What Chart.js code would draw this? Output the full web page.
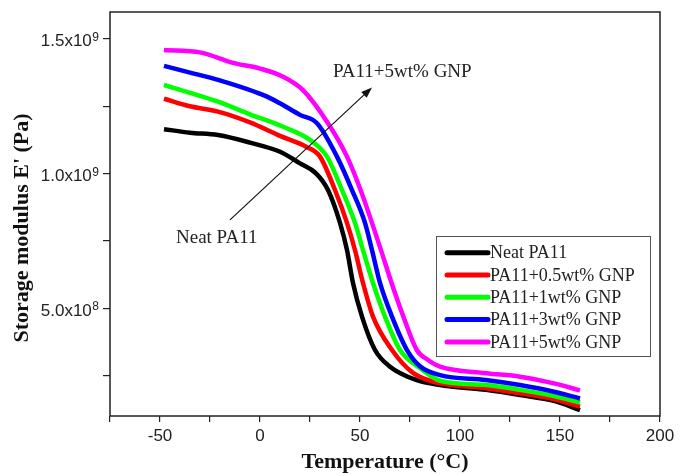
<!DOCTYPE html>
<html>
<head>
<meta charset="utf-8">
<script src="https://cdn.jsdelivr.net/npm/chart.js@4.4.1/dist/chart.umd.min.js"></script>
<style>
  html, body { margin: 0; padding: 0; background: #fff; }
  #wrap { width: 688px; height: 476px; position: relative; }
</style>
</head>
<body>
<div id="wrap"><canvas id="dma"></canvas></div>
<script>
// series names
var seriesNames = ['Neat PA11', 'PA11+0.5wt% GNP', 'PA11+1wt% GNP', 'PA11+3wt% GNP', 'PA11+5wt% GNP'];
var seriesColors = ['#000000', '#ff0000', '#00ff00', '#0000ff', '#ff00ff'];

// temperature (°C) and storage modulus (x1e9 Pa)
var neatT = [-48, -35, -21, -5, 10, 20, 28, 34, 40, 43.5, 46.5, 51, 57.5, 65, 78, 90, 113, 130, 147, 160];
var neatE = [1.165, 1.152, 1.143, 1.115, 1.081, 1.038, 1.001, 0.939, 0.817, 0.716, 0.594, 0.469, 0.345, 0.283, 0.234, 0.215, 0.197, 0.178, 0.156, 0.122];

var gnp05T = [-48, -35, -21, -5, 10, 23, 30, 37.5, 43.5, 47.5, 51.5, 56.5, 66, 76.5, 90, 113, 130, 147, 160];
var gnp05E = [1.278, 1.250, 1.230, 1.190, 1.140, 1.100, 1.063, 0.939, 0.817, 0.716, 0.594, 0.469, 0.345, 0.260, 0.221, 0.203, 0.184, 0.162, 0.135];

var gnp1T = [-48, -35, -21, -5, 11.5, 25, 33.5, 41, 47.5, 51.5, 56.5, 62.5, 70, 80, 90, 113, 130, 147, 160];
var gnp1E = [1.329, 1.300, 1.267, 1.220, 1.174, 1.125, 1.063, 0.939, 0.817, 0.716, 0.594, 0.469, 0.345, 0.278, 0.231, 0.215, 0.197, 0.174, 0.150];

var gnp3T = [-48, -35, -21, 3.5, 10, 20, 28.5, 38.5, 46, 52.5, 56, 60, 66, 73.5, 80, 90, 113, 130, 147, 160];
var gnp3E = [1.400, 1.375, 1.348, 1.286, 1.261, 1.218, 1.187, 1.063, 0.939, 0.817, 0.716, 0.594, 0.469, 0.345, 0.285, 0.252, 0.234, 0.215, 0.190, 0.165];

var gnp5T = [-48, -30, -13.5, 0, 11.5, 21.5, 34, 43.5, 50.3, 56, 60.5, 65.8, 71.7, 78.4, 84, 90, 113, 130, 147, 160];
var gnp5E = [1.459, 1.450, 1.411, 1.390, 1.360, 1.310, 1.187, 1.063, 0.939, 0.817, 0.716, 0.594, 0.469, 0.345, 0.308, 0.283, 0.259, 0.246, 0.221, 0.195];

// axis ticks
var xTickLabels = [-50, 0, 50, 100, 150, 200];
var yTickMarks = [2.5e8, 5e8, 7.5e8, 1e9, 1.25e9, 1.5e9];
var yTickValues = [5e8, 1e9, 1.5e9];
var yTickMantissa = ['5.0x10', '1.0x10', '1.5x10'];
var yTickExponent = ['8', '9', '9'];

// arrow annotation (data coords)
var arrowFrom = { x: -15, y: 8.28e8 };
var arrowTo = { x: 56, y: 1.32e9 };
var lowLabel = { x: -42, y: 7.6e8, text: 'Neat PA11' };
var highLabel = { x: 36.5, y: 1.377e9, text: 'PA11+5wt% GNP' };

var allT = [neatT, gnp05T, gnp1T, gnp3T, gnp5T];
var allE = [neatE, gnp05E, gnp1E, gnp3E, gnp5E];

function toPoints(ts, es) {
    return ts.map(function(t, i) { return { x: t, y: es[i] * 1e9 }; });
}

var datasets = seriesNames.map(function(name, i) {
    return {
        label: name,
        data: toPoints(allT[i], allE[i]),
        borderColor: seriesColors[i],
        backgroundColor: seriesColors[i],
        borderWidth: 4.5,
        pointRadius: 0,
        fill: false,
        cubicInterpolationMode: 'monotone',
        order: 4 - i
    };
});

var serif = "'Liberation Serif', 'Times New Roman', serif";
var sans = "'Liberation Sans', Arial, sans-serif";

var framePlugin = {
    id: 'frame',
    afterDatasetsDraw: function(chart) {
        var a = chart.chartArea, ctx = chart.ctx;
        var xs = chart.scales.x, ys = chart.scales.y;
        ctx.save();
        ctx.strokeStyle = '#222';
        ctx.lineWidth = 1.5;
        ctx.strokeRect(a.left, a.top, a.right - a.left, a.bottom - a.top);

        // y tick labels with raised exponent
        ctx.fillStyle = '#222';
        ctx.textBaseline = 'alphabetic';
        ctx.textAlign = 'right';
        yTickValues.forEach(function(v, i) {
            var py = ys.getPixelForValue(v);
            var ex = a.left - 11;
            ctx.font = '12px ' + sans;
            ctx.fillText(yTickExponent[i], ex, py + 2);
            var ew = ctx.measureText(yTickExponent[i]).width;
            ctx.font = '17px ' + sans;
            ctx.fillText(yTickMantissa[i], ex - ew - 0.5, py + 7.5);
        });

        // y title
        ctx.save();
        ctx.translate(22, (a.top + a.bottom) / 2 + 14);
        ctx.rotate(-Math.PI / 2);
        ctx.textAlign = 'center';
        ctx.textBaseline = 'middle';
        ctx.fillStyle = '#111';
        ctx.font = 'bold 22px ' + serif;
        ctx.fillText("Storage modulus E' (Pa)", 0, 0);
        ctx.restore();

        // arrow
        var x1 = xs.getPixelForValue(arrowFrom.x), y1 = ys.getPixelForValue(arrowFrom.y);
        var x2 = xs.getPixelForValue(arrowTo.x), y2 = ys.getPixelForValue(arrowTo.y);
        var ang = Math.atan2(y2 - y1, x2 - x1);
        ctx.strokeStyle = '#111';
        ctx.lineWidth = 1.2;
        ctx.beginPath();
        ctx.moveTo(x1, y1);
        ctx.lineTo(x2 - 8 * Math.cos(ang), y2 - 8 * Math.sin(ang));
        ctx.stroke();
        ctx.fillStyle = '#111';
        ctx.beginPath();
        ctx.moveTo(x2, y2);
        ctx.lineTo(x2 - 11 * Math.cos(ang) + 4 * Math.sin(ang), y2 - 11 * Math.sin(ang) - 4 * Math.cos(ang));
        ctx.lineTo(x2 - 11 * Math.cos(ang) - 4 * Math.sin(ang), y2 - 11 * Math.sin(ang) + 4 * Math.cos(ang));
        ctx.closePath();
        ctx.fill();

        ctx.font = '19px ' + serif;
        ctx.fillStyle = '#222';
        ctx.textAlign = 'left';
        ctx.textBaseline = 'middle';
        [lowLabel, highLabel].forEach(function(l) {
            ctx.fillText(l.text, xs.getPixelForValue(l.x), ys.getPixelForValue(l.y));
        });

        // legend box
        var bw = 214, bh = 120;
        var bx = a.right - 10 - bw, by = a.bottom - 60 - bh;
        ctx.fillStyle = '#fff';
        ctx.fillRect(bx, by, bw, bh);
        ctx.strokeStyle = '#555';
        ctx.lineWidth = 1;
        ctx.strokeRect(bx + 0.5, by + 0.5, bw, bh);
        ctx.font = '18px ' + serif;
        ctx.lineCap = 'round';
        chart.data.datasets.forEach(function(ds, i) {
            var ry = by + 16.7 + i * 22.3;
            ctx.strokeStyle = ds.borderColor;
            ctx.lineWidth = 5;
            ctx.beginPath();
            ctx.moveTo(bx + 11, ry);
            ctx.lineTo(bx + 52, ry);
            ctx.stroke();
            ctx.fillStyle = '#222';
            ctx.fillText(ds.label, bx + 54, ry + 1);
        });
        ctx.restore();
    }
};

var config = {
    type: 'line',
    data: { datasets: datasets },
    options: {
        responsive: true,
        maintainAspectRatio: false,
        animation: false,
        layout: { padding: { left: 0, right: 28, top: 12, bottom: 0 } },
        plugins: {
            legend: { display: false },
            tooltip: { enabled: false }
        },
        scales: {
            x: {
                type: 'linear',
                min: -75,
                max: 200,
                border: { display: false },
                grid: { drawOnChartArea: false, drawTicks: true, tickLength: 6, color: '#222', lineWidth: 1.2 },
                ticks: {
                    stepSize: 25,
                    includeBounds: false,
                    autoSkip: false,
                    maxRotation: 0,
                    padding: 4,
                    color: '#222',
                    font: { family: sans, size: 17 },
                    callback: function(v) { return xTickLabels.indexOf(v) >= 0 ? String(v) : ''; }
                },
                title: {
                    display: true,
                    text: 'Temperature (\u00b0C)',
                    color: '#111',
                    font: { family: serif, size: 22, weight: 'bold' },
                    padding: { top: 1, bottom: 0 }
                },
                afterFit: function(scale) { scale.height = 60; }
            },
            y: {
                type: 'linear',
                min: 1e8,
                max: 1.6e9,
                border: { display: false },
                grid: { drawOnChartArea: false, drawTicks: true, tickLength: 7, color: '#222', lineWidth: 1.2 },
                afterBuildTicks: function(scale) {
                    scale.ticks = yTickMarks.map(function(v) { return { value: v }; });
                },
                ticks: {
                    autoSkip: false,
                    callback: function() { return ''; }
                },
                afterFit: function(scale) { scale.width = 110; }
            }
        }
    },
    plugins: [framePlugin]
};

window.myChart = new Chart(document.getElementById('dma'), config);
</script>
</body>
</html>
